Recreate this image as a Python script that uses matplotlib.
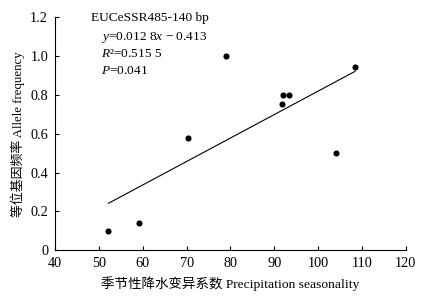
import matplotlib
matplotlib.use("Agg")
import matplotlib.pyplot as plt

# Data
x_vals = [52.2, 59.1, 70.4, 79.05, 91.7, 92.0, 93.3, 104.0, 108.4]
y_vals = [0.10, 0.14, 0.58, 1.00, 0.75, 0.80, 0.80, 0.50, 0.945]
fit_x = [52.2, 108.4]
fit_y = [0.242, 0.920]
x_ticks = [40, 50, 60, 70, 80, 90, 100, 110, 120]
y_ticks = [0, 0.2, 0.4, 0.6, 0.8, 1.0, 1.2]
y_tick_labels = ["0", "0.2", "0.4", "0.6", "0.8", "1.0", "1.2"]
title_text = "EUCeSSR485-140 bp"
eq_lines = [r"$y$=0.012 8$x$ − 0.413", r"$R$²=0.515 5", r"$P$=0.041"]
xlabel = "季节性降水变异系数 Precipitation seasonality"
ylabel = "等位基因频率 Allele frequency"

plt.rcParams['font.family'] = ['Liberation Serif', 'Noto Sans CJK SC']
plt.rcParams['mathtext.fontset'] = 'custom'
plt.rcParams['mathtext.rm'] = 'Liberation Serif'
plt.rcParams['mathtext.it'] = 'Liberation Serif:italic'

fig = plt.figure(figsize=(4.47, 3.02), dpi=100)
ax = fig.add_axes([0.123, 0.171, 0.785, 0.773])

ax.plot(fit_x, fit_y, color='black', lw=0.8)
ax.plot(x_vals, y_vals, 'o', color='black', markersize=4.4, markeredgewidth=0)

ax.set_xlim(40, 120)
ax.set_ylim(0, 1.2)
ax.set_xticks(x_ticks)
ax.set_yticks(y_ticks)
ax.set_yticklabels(y_tick_labels)
ax.tick_params(direction='in', length=3, width=0.8, labelsize=10.3, pad=5)
for s in ['top', 'right']:
    ax.spines[s].set_visible(False)
for s in ['left', 'bottom']:
    ax.spines[s].set_linewidth(0.8)

ax.text(0.102, 0.996, title_text, transform=ax.transAxes, fontsize=9.6,
        ha='left', va='center')
for i, t in enumerate(eq_lines):
    ax.text(0.131, 0.91 - i * 0.071, t, transform=ax.transAxes, fontsize=9.6,
            ha='left', va='center')

ax.set_xlabel(xlabel, fontsize=9.7, labelpad=4)
ax.set_ylabel(ylabel, fontsize=9.3, labelpad=4)

fig.savefig("out.png", dpi=100)
